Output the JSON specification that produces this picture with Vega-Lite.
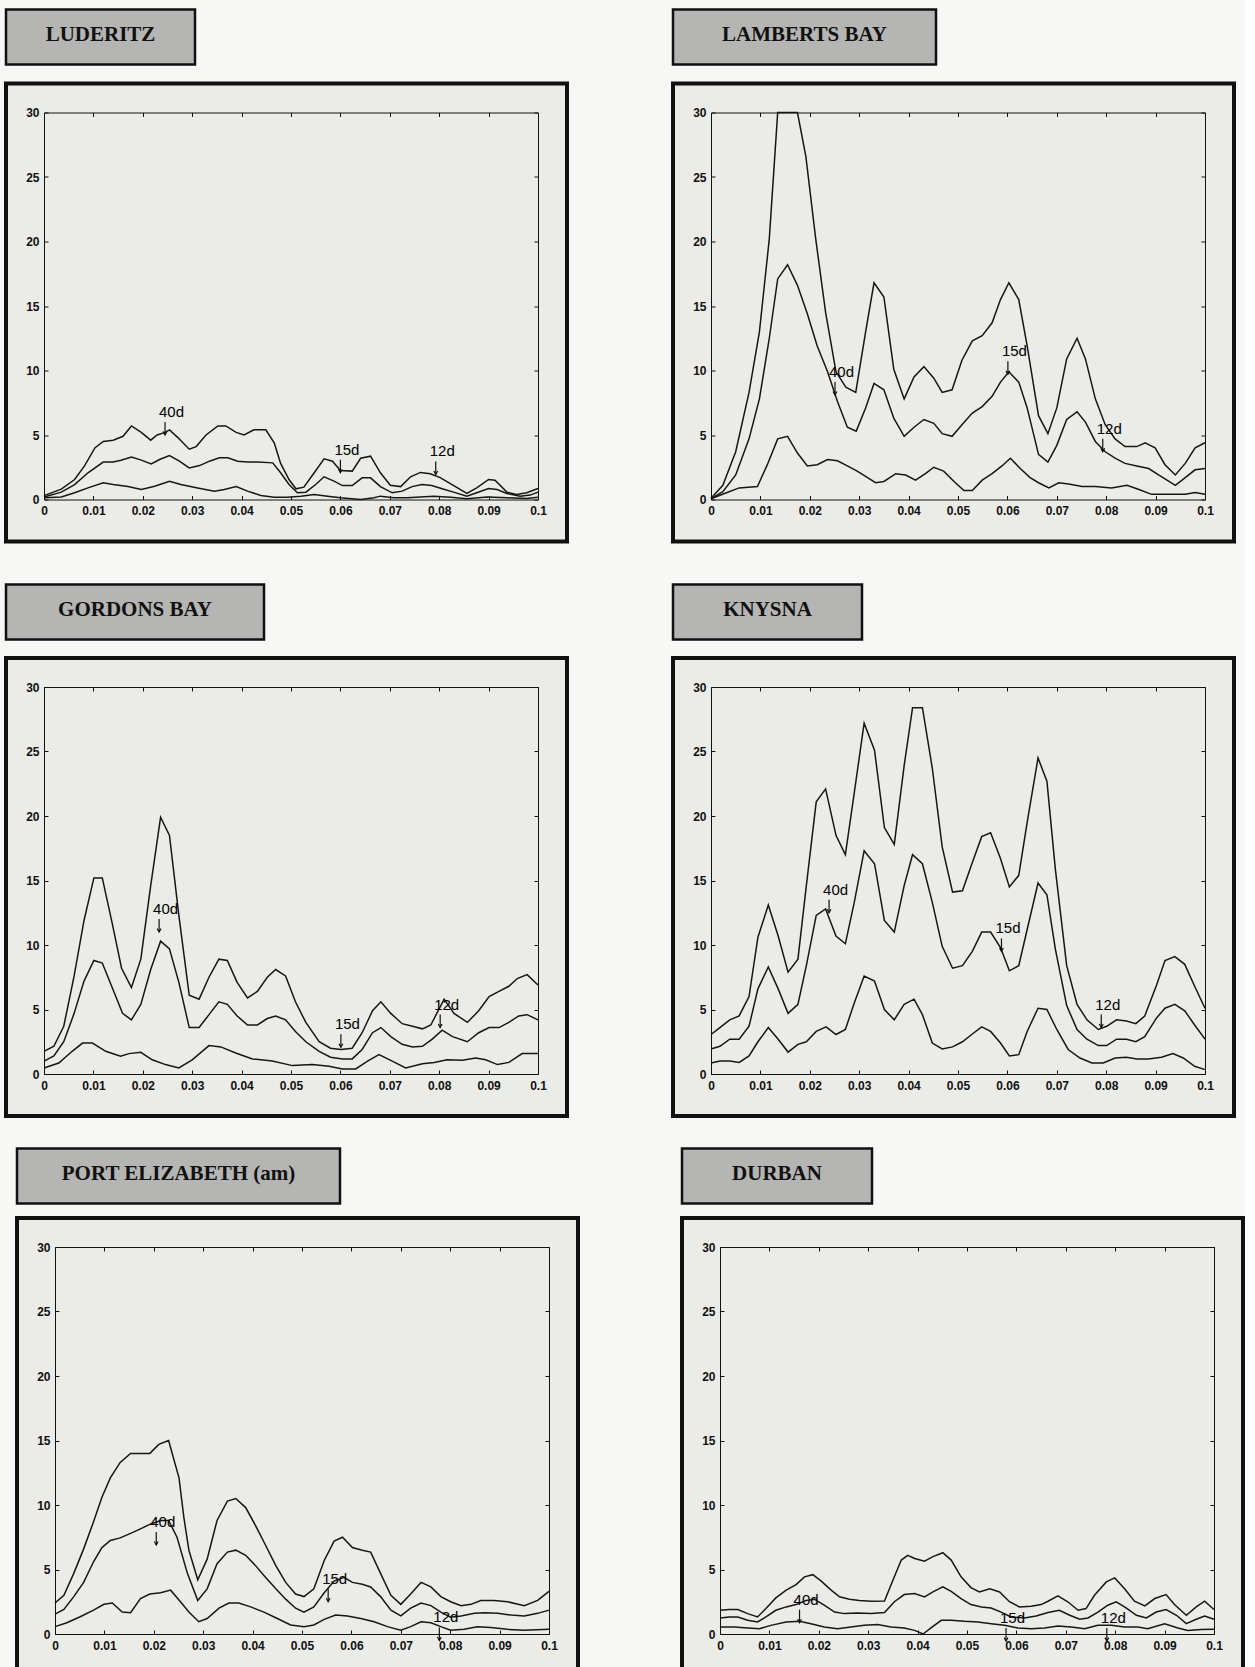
{
"$schema": "https://vega.github.io/schema/vega-lite/v6.json",
"background": "#f7f7f5",
"padding": {"left": 4, "top": 7.5, "right": 0, "bottom": 0},
"config": {
  "view": {"stroke": null},
  "axis": {"tickSize": -4, "domainColor": "#111", "tickColor": "#111", "labelColor": "#111", "labelFont": "Liberation Sans", "labelFontSize": 12, "labelFontWeight": "bold", "grid": false, "labelFlush": false, "labelOverlap": false, "domainWidth": 1, "tickWidth": 1}
},
"datasets": {
"lud": [
{"f":0,"s":"a","v":0.3},{"f":0.0035,"s":"a","v":0.8},{"f":0.0062,"s":"a","v":1.55},{"f":0.0082,"s":"a","v":2.6},{"f":0.0103,"s":"a","v":4.0},{"f":0.012,"s":"a","v":4.5},{"f":0.014,"s":"a","v":4.6},{"f":0.016,"s":"a","v":4.9},{"f":0.0177,"s":"a","v":5.7},{"f":0.0197,"s":"a","v":5.2},{"f":0.0216,"s":"a","v":4.6},{"f":0.0229,"s":"a","v":5.0},{"f":0.0245,"s":"a","v":5.2},{"f":0.0254,"s":"a","v":5.4},{"f":0.0271,"s":"a","v":4.8},{"f":0.0294,"s":"a","v":3.9},{"f":0.0308,"s":"a","v":4.1},{"f":0.0328,"s":"a","v":5.0},{"f":0.0352,"s":"a","v":5.7},{"f":0.0368,"s":"a","v":5.7},{"f":0.0389,"s":"a","v":5.2},{"f":0.0405,"s":"a","v":5.0},{"f":0.0425,"s":"a","v":5.4},{"f":0.0449,"s":"a","v":5.4},{"f":0.0466,"s":"a","v":4.4},{"f":0.0479,"s":"a","v":2.8},{"f":0.0496,"s":"a","v":1.55},{"f":0.051,"s":"a","v":0.83},{"f":0.0526,"s":"a","v":0.96},{"f":0.0547,"s":"a","v":2.07},{"f":0.0567,"s":"a","v":3.15},{"f":0.0584,"s":"a","v":2.97},{"f":0.06,"s":"a","v":2.25},{"f":0.0624,"s":"a","v":2.2},{"f":0.0641,"s":"a","v":3.2},{"f":0.0661,"s":"a","v":3.36},{"f":0.0681,"s":"a","v":2.07},{"f":0.0701,"s":"a","v":1.1},{"f":0.0722,"s":"a","v":1.0},{"f":0.0742,"s":"a","v":1.76},{"f":0.0762,"s":"a","v":2.1},{"f":0.0782,"s":"a","v":2.0},{"f":0.0802,"s":"a","v":1.7},{"f":0.0826,"s":"a","v":1.16},{"f":0.0856,"s":"a","v":0.47},{"f":0.0876,"s":"a","v":0.9},{"f":0.09,"s":"a","v":1.55},{"f":0.0913,"s":"a","v":1.5},{"f":0.0937,"s":"a","v":0.57},{"f":0.0957,"s":"a","v":0.39},{"f":0.0977,"s":"a","v":0.52},{"f":0.1,"s":"a","v":0.85},
{"f":0,"s":"b","v":0.2},{"f":0.0035,"s":"b","v":0.57},{"f":0.0062,"s":"b","v":1.16},{"f":0.0089,"s":"b","v":2.07},{"f":0.012,"s":"b","v":2.9},{"f":0.014,"s":"b","v":2.9},{"f":0.0156,"s":"b","v":3.05},{"f":0.0177,"s":"b","v":3.3},{"f":0.0197,"s":"b","v":3.05},{"f":0.0217,"s":"b","v":2.76},{"f":0.0234,"s":"b","v":3.1},{"f":0.0254,"s":"b","v":3.4},{"f":0.0274,"s":"b","v":2.97},{"f":0.0294,"s":"b","v":2.45},{"f":0.0315,"s":"b","v":2.63},{"f":0.0335,"s":"b","v":2.97},{"f":0.0355,"s":"b","v":3.23},{"f":0.0372,"s":"b","v":3.23},{"f":0.0392,"s":"b","v":2.97},{"f":0.0412,"s":"b","v":2.9},{"f":0.0432,"s":"b","v":2.9},{"f":0.0463,"s":"b","v":2.84},{"f":0.0479,"s":"b","v":2.07},{"f":0.0496,"s":"b","v":1.16},{"f":0.0513,"s":"b","v":0.52},{"f":0.053,"s":"b","v":0.57},{"f":0.055,"s":"b","v":1.16},{"f":0.0567,"s":"b","v":1.76},{"f":0.0587,"s":"b","v":1.42},{"f":0.0604,"s":"b","v":1.08},{"f":0.0624,"s":"b","v":1.08},{"f":0.0644,"s":"b","v":1.68},{"f":0.0661,"s":"b","v":1.68},{"f":0.0681,"s":"b","v":1.0},{"f":0.0705,"s":"b","v":0.52},{"f":0.0725,"s":"b","v":0.65},{"f":0.0745,"s":"b","v":1.0},{"f":0.0765,"s":"b","v":1.16},{"f":0.0785,"s":"b","v":1.08},{"f":0.0806,"s":"b","v":0.83},{"f":0.0829,"s":"b","v":0.57},{"f":0.0856,"s":"b","v":0.26},{"f":0.0876,"s":"b","v":0.52},{"f":0.09,"s":"b","v":0.85},{"f":0.0917,"s":"b","v":0.78},{"f":0.0937,"s":"b","v":0.47},{"f":0.0964,"s":"b","v":0.26},{"f":0.0984,"s":"b","v":0.34},{"f":0.1,"s":"b","v":0.57},
{"f":0,"s":"c","v":0.13},{"f":0.0035,"s":"c","v":0.2},{"f":0.0062,"s":"c","v":0.52},{"f":0.0089,"s":"c","v":0.9},{"f":0.012,"s":"c","v":1.3},{"f":0.014,"s":"c","v":1.16},{"f":0.017,"s":"c","v":1.0},{"f":0.0197,"s":"c","v":0.78},{"f":0.0224,"s":"c","v":1.03},{"f":0.0254,"s":"c","v":1.42},{"f":0.0277,"s":"c","v":1.16},{"f":0.0311,"s":"c","v":0.9},{"f":0.0345,"s":"c","v":0.65},{"f":0.0365,"s":"c","v":0.78},{"f":0.0389,"s":"c","v":1.0},{"f":0.0412,"s":"c","v":0.65},{"f":0.0439,"s":"c","v":0.31},{"f":0.0466,"s":"c","v":0.18},{"f":0.0493,"s":"c","v":0.18},{"f":0.052,"s":"c","v":0.26},{"f":0.0547,"s":"c","v":0.39},{"f":0.0574,"s":"c","v":0.26},{"f":0.06,"s":"c","v":0.13},{"f":0.0641,"s":"c","v":0.0},{"f":0.0668,"s":"c","v":0.13},{"f":0.0681,"s":"c","v":0.26},{"f":0.0708,"s":"c","v":0.13},{"f":0.0735,"s":"c","v":0.13},{"f":0.0789,"s":"c","v":0.26},{"f":0.0823,"s":"c","v":0.18},{"f":0.0856,"s":"c","v":0.05},{"f":0.0897,"s":"c","v":0.2},{"f":0.0937,"s":"c","v":0.13},{"f":0.0977,"s":"c","v":0.08},{"f":0.1,"s":"c","v":0.18}
],
"lam": [
{"f":0,"s":"a","v":0.1},{"f":0.0024,"s":"a","v":1.1},{"f":0.005,"s":"a","v":3.7},{"f":0.0077,"s":"a","v":8.3},{"f":0.0098,"s":"a","v":13},{"f":0.0118,"s":"a","v":20.2},{"f":0.0135,"s":"a","v":30},{"f":0.0155,"s":"a","v":30},{"f":0.0175,"s":"a","v":30},{"f":0.0192,"s":"a","v":26.6},{"f":0.0212,"s":"a","v":20.2},{"f":0.0232,"s":"a","v":14.5},{"f":0.0253,"s":"a","v":9.9},{"f":0.0273,"s":"a","v":8.7},{"f":0.0293,"s":"a","v":8.3},{"f":0.0313,"s":"a","v":13},{"f":0.033,"s":"a","v":16.8},{"f":0.035,"s":"a","v":15.7},{"f":0.037,"s":"a","v":10.1},{"f":0.0391,"s":"a","v":7.8},{"f":0.0411,"s":"a","v":9.5},{"f":0.0431,"s":"a","v":10.3},{"f":0.0451,"s":"a","v":9.4},{"f":0.0468,"s":"a","v":8.3},{"f":0.0488,"s":"a","v":8.5},{"f":0.0508,"s":"a","v":10.8},{"f":0.0529,"s":"a","v":12.3},{"f":0.0549,"s":"a","v":12.7},{"f":0.0569,"s":"a","v":13.7},{"f":0.0586,"s":"a","v":15.5},{"f":0.0603,"s":"a","v":16.8},{"f":0.0623,"s":"a","v":15.5},{"f":0.064,"s":"a","v":11.9},{"f":0.0663,"s":"a","v":6.5},{"f":0.0682,"s":"a","v":5.1},{"f":0.07,"s":"a","v":7.1},{"f":0.072,"s":"a","v":10.9},{"f":0.0741,"s":"a","v":12.5},{"f":0.0758,"s":"a","v":10.9},{"f":0.0778,"s":"a","v":7.8},{"f":0.0798,"s":"a","v":5.8},{"f":0.0818,"s":"a","v":4.7},{"f":0.0838,"s":"a","v":4.1},{"f":0.0862,"s":"a","v":4.1},{"f":0.0879,"s":"a","v":4.4},{"f":0.0899,"s":"a","v":4.0},{"f":0.0919,"s":"a","v":2.7},{"f":0.094,"s":"a","v":1.9},{"f":0.096,"s":"a","v":2.8},{"f":0.098,"s":"a","v":4.0},{"f":0.1,"s":"a","v":4.4},
{"f":0,"s":"b","v":0.06},{"f":0.0024,"s":"b","v":0.6},{"f":0.005,"s":"b","v":1.9},{"f":0.0077,"s":"b","v":4.7},{"f":0.0098,"s":"b","v":7.8},{"f":0.0118,"s":"b","v":12.5},{"f":0.0135,"s":"b","v":17.1},{"f":0.0155,"s":"b","v":18.2},{"f":0.0175,"s":"b","v":16.6},{"f":0.0195,"s":"b","v":14.4},{"f":0.0215,"s":"b","v":11.9},{"f":0.0236,"s":"b","v":9.9},{"f":0.0256,"s":"b","v":7.6},{"f":0.0276,"s":"b","v":5.6},{"f":0.0294,"s":"b","v":5.3},{"f":0.0313,"s":"b","v":7.1},{"f":0.033,"s":"b","v":9.0},{"f":0.035,"s":"b","v":8.5},{"f":0.037,"s":"b","v":6.3},{"f":0.0391,"s":"b","v":4.9},{"f":0.0411,"s":"b","v":5.6},{"f":0.0431,"s":"b","v":6.2},{"f":0.0451,"s":"b","v":5.9},{"f":0.0468,"s":"b","v":5.1},{"f":0.0488,"s":"b","v":4.9},{"f":0.0508,"s":"b","v":5.8},{"f":0.0529,"s":"b","v":6.7},{"f":0.0549,"s":"b","v":7.2},{"f":0.0569,"s":"b","v":8.0},{"f":0.0586,"s":"b","v":9.1},{"f":0.0603,"s":"b","v":9.9},{"f":0.0623,"s":"b","v":9.1},{"f":0.064,"s":"b","v":7.1},{"f":0.0663,"s":"b","v":3.5},{"f":0.0682,"s":"b","v":2.9},{"f":0.07,"s":"b","v":4.2},{"f":0.072,"s":"b","v":6.2},{"f":0.0741,"s":"b","v":6.8},{"f":0.0758,"s":"b","v":6.0},{"f":0.0778,"s":"b","v":4.5},{"f":0.0798,"s":"b","v":3.7},{"f":0.0818,"s":"b","v":3.2},{"f":0.0838,"s":"b","v":2.8},{"f":0.0862,"s":"b","v":2.6},{"f":0.0886,"s":"b","v":2.4},{"f":0.0906,"s":"b","v":1.9},{"f":0.094,"s":"b","v":1.1},{"f":0.096,"s":"b","v":1.7},{"f":0.098,"s":"b","v":2.3},{"f":0.1,"s":"b","v":2.4},
{"f":0,"s":"c","v":0.06},{"f":0.003,"s":"c","v":0.5},{"f":0.0057,"s":"c","v":0.9},{"f":0.0094,"s":"c","v":1.0},{"f":0.0114,"s":"c","v":2.7},{"f":0.0135,"s":"c","v":4.7},{"f":0.0155,"s":"c","v":4.9},{"f":0.0175,"s":"c","v":3.6},{"f":0.0195,"s":"c","v":2.6},{"f":0.0215,"s":"c","v":2.7},{"f":0.0236,"s":"c","v":3.1},{"f":0.0256,"s":"c","v":3.0},{"f":0.0276,"s":"c","v":2.6},{"f":0.0296,"s":"c","v":2.2},{"f":0.0317,"s":"c","v":1.7},{"f":0.0333,"s":"c","v":1.3},{"f":0.035,"s":"c","v":1.4},{"f":0.0374,"s":"c","v":2.0},{"f":0.0394,"s":"c","v":1.9},{"f":0.0414,"s":"c","v":1.5},{"f":0.0434,"s":"c","v":2.0},{"f":0.0451,"s":"c","v":2.5},{"f":0.0471,"s":"c","v":2.2},{"f":0.0492,"s":"c","v":1.4},{"f":0.0512,"s":"c","v":0.7},{"f":0.0529,"s":"c","v":0.7},{"f":0.0549,"s":"c","v":1.5},{"f":0.0569,"s":"c","v":2.0},{"f":0.0589,"s":"c","v":2.6},{"f":0.0606,"s":"c","v":3.2},{"f":0.0626,"s":"c","v":2.4},{"f":0.0646,"s":"c","v":1.7},{"f":0.0663,"s":"c","v":1.3},{"f":0.0684,"s":"c","v":0.9},{"f":0.0704,"s":"c","v":1.3},{"f":0.0724,"s":"c","v":1.2},{"f":0.0751,"s":"c","v":1.0},{"f":0.0778,"s":"c","v":1.0},{"f":0.0811,"s":"c","v":0.9},{"f":0.0842,"s":"c","v":1.1},{"f":0.0865,"s":"c","v":0.8},{"f":0.0892,"s":"c","v":0.4},{"f":0.0933,"s":"c","v":0.4},{"f":0.096,"s":"c","v":0.4},{"f":0.098,"s":"c","v":0.55},{"f":0.1,"s":"c","v":0.4}
],
"gor": [
{"f":0,"s":"a","v":1.76},{"f":0.002,"s":"a","v":2.15},{"f":0.004,"s":"a","v":3.7},{"f":0.0061,"s":"a","v":7.6},{"f":0.0081,"s":"a","v":11.9},{"f":0.0101,"s":"a","v":15.2},{"f":0.0118,"s":"a","v":15.2},{"f":0.0138,"s":"a","v":11.7},{"f":0.0157,"s":"a","v":8.2},{"f":0.0177,"s":"a","v":6.7},{"f":0.0196,"s":"a","v":8.9},{"f":0.0216,"s":"a","v":14.6},{"f":0.0236,"s":"a","v":19.9},{"f":0.0254,"s":"a","v":18.5},{"f":0.0273,"s":"a","v":12.3},{"f":0.0294,"s":"a","v":6.1},{"f":0.0314,"s":"a","v":5.8},{"f":0.0334,"s":"a","v":7.5},{"f":0.0354,"s":"a","v":8.9},{"f":0.0371,"s":"a","v":8.8},{"f":0.0391,"s":"a","v":7.1},{"f":0.0412,"s":"a","v":5.9},{"f":0.0432,"s":"a","v":6.4},{"f":0.0452,"s":"a","v":7.5},{"f":0.0469,"s":"a","v":8.1},{"f":0.0489,"s":"a","v":7.6},{"f":0.0509,"s":"a","v":5.6},{"f":0.053,"s":"a","v":4.0},{"f":0.0557,"s":"a","v":2.5},{"f":0.058,"s":"a","v":2.0},{"f":0.0601,"s":"a","v":1.9},{"f":0.0624,"s":"a","v":2.0},{"f":0.0644,"s":"a","v":3.2},{"f":0.0665,"s":"a","v":4.9},{"f":0.0682,"s":"a","v":5.6},{"f":0.0702,"s":"a","v":4.7},{"f":0.0725,"s":"a","v":3.9},{"f":0.0746,"s":"a","v":3.7},{"f":0.0766,"s":"a","v":3.5},{"f":0.0783,"s":"a","v":3.8},{"f":0.081,"s":"a","v":5.8},{"f":0.083,"s":"a","v":4.7},{"f":0.0857,"s":"a","v":4.0},{"f":0.088,"s":"a","v":4.9},{"f":0.0901,"s":"a","v":6.0},{"f":0.0921,"s":"a","v":6.4},{"f":0.0941,"s":"a","v":6.8},{"f":0.0958,"s":"a","v":7.4},{"f":0.0978,"s":"a","v":7.7},{"f":0.1,"s":"a","v":6.9},
{"f":0,"s":"b","v":1.0},{"f":0.002,"s":"b","v":1.4},{"f":0.004,"s":"b","v":2.5},{"f":0.0061,"s":"b","v":4.7},{"f":0.0081,"s":"b","v":7.2},{"f":0.0101,"s":"b","v":8.8},{"f":0.0118,"s":"b","v":8.6},{"f":0.0138,"s":"b","v":6.7},{"f":0.0159,"s":"b","v":4.7},{"f":0.0177,"s":"b","v":4.2},{"f":0.0196,"s":"b","v":5.4},{"f":0.0216,"s":"b","v":8.1},{"f":0.0236,"s":"b","v":10.3},{"f":0.0254,"s":"b","v":9.7},{"f":0.0273,"s":"b","v":7.1},{"f":0.0294,"s":"b","v":3.6},{"f":0.0314,"s":"b","v":3.6},{"f":0.0334,"s":"b","v":4.6},{"f":0.0354,"s":"b","v":5.6},{"f":0.0371,"s":"b","v":5.4},{"f":0.0391,"s":"b","v":4.5},{"f":0.0412,"s":"b","v":3.8},{"f":0.0432,"s":"b","v":3.8},{"f":0.0452,"s":"b","v":4.3},{"f":0.0469,"s":"b","v":4.5},{"f":0.0489,"s":"b","v":4.2},{"f":0.0509,"s":"b","v":3.3},{"f":0.053,"s":"b","v":2.5},{"f":0.0557,"s":"b","v":1.76},{"f":0.058,"s":"b","v":1.3},{"f":0.0604,"s":"b","v":1.17},{"f":0.0624,"s":"b","v":1.17},{"f":0.0644,"s":"b","v":1.9},{"f":0.0665,"s":"b","v":3.2},{"f":0.0682,"s":"b","v":3.6},{"f":0.0702,"s":"b","v":2.9},{"f":0.0725,"s":"b","v":2.3},{"f":0.0746,"s":"b","v":2.1},{"f":0.0766,"s":"b","v":2.15},{"f":0.0786,"s":"b","v":2.7},{"f":0.0806,"s":"b","v":3.4},{"f":0.0827,"s":"b","v":2.9},{"f":0.0857,"s":"b","v":2.5},{"f":0.088,"s":"b","v":3.2},{"f":0.0901,"s":"b","v":3.6},{"f":0.0921,"s":"b","v":3.6},{"f":0.0941,"s":"b","v":4.0},{"f":0.0961,"s":"b","v":4.5},{"f":0.0978,"s":"b","v":4.6},{"f":0.1,"s":"b","v":4.2},
{"f":0,"s":"c","v":0.47},{"f":0.003,"s":"c","v":0.85},{"f":0.0057,"s":"c","v":1.76},{"f":0.0078,"s":"c","v":2.4},{"f":0.0098,"s":"c","v":2.4},{"f":0.0125,"s":"c","v":1.76},{"f":0.0155,"s":"c","v":1.37},{"f":0.0172,"s":"c","v":1.58},{"f":0.0196,"s":"c","v":1.68},{"f":0.0219,"s":"c","v":1.1},{"f":0.0246,"s":"c","v":0.73},{"f":0.0273,"s":"c","v":0.47},{"f":0.03,"s":"c","v":1.1},{"f":0.0334,"s":"c","v":2.2},{"f":0.0358,"s":"c","v":2.1},{"f":0.0388,"s":"c","v":1.63},{"f":0.0422,"s":"c","v":1.17},{"f":0.0462,"s":"c","v":1.0},{"f":0.0503,"s":"c","v":0.65},{"f":0.0543,"s":"c","v":0.73},{"f":0.0577,"s":"c","v":0.6},{"f":0.0604,"s":"c","v":0.39},{"f":0.0631,"s":"c","v":0.39},{"f":0.0655,"s":"c","v":1.0},{"f":0.0678,"s":"c","v":1.5},{"f":0.0705,"s":"c","v":1.0},{"f":0.0732,"s":"c","v":0.47},{"f":0.0766,"s":"c","v":0.8},{"f":0.079,"s":"c","v":0.9},{"f":0.0816,"s":"c","v":1.1},{"f":0.0847,"s":"c","v":1.06},{"f":0.0874,"s":"c","v":1.24},{"f":0.0894,"s":"c","v":1.1},{"f":0.0918,"s":"c","v":0.73},{"f":0.0941,"s":"c","v":0.9},{"f":0.0968,"s":"c","v":1.58},{"f":0.1,"s":"c","v":1.58}
],
"kny": [
{"f":0,"s":"a","v":3.06},{"f":0.0018,"s":"a","v":3.6},{"f":0.0038,"s":"a","v":4.2},{"f":0.0057,"s":"a","v":4.5},{"f":0.0077,"s":"a","v":6.0},{"f":0.0095,"s":"a","v":10.6},{"f":0.0116,"s":"a","v":13.1},{"f":0.0136,"s":"a","v":10.7},{"f":0.0156,"s":"a","v":7.9},{"f":0.0176,"s":"a","v":8.9},{"f":0.0193,"s":"a","v":14.6},{"f":0.0213,"s":"a","v":21.1},{"f":0.0232,"s":"a","v":22.1},{"f":0.0253,"s":"a","v":18.5},{"f":0.0272,"s":"a","v":17.0},{"f":0.029,"s":"a","v":21.8},{"f":0.031,"s":"a","v":27.2},{"f":0.0331,"s":"a","v":25.1},{"f":0.0351,"s":"a","v":19.1},{"f":0.0371,"s":"a","v":17.8},{"f":0.0391,"s":"a","v":23.9},{"f":0.0408,"s":"a","v":28.4},{"f":0.0428,"s":"a","v":28.4},{"f":0.0448,"s":"a","v":23.7},{"f":0.0468,"s":"a","v":17.6},{"f":0.0489,"s":"a","v":14.1},{"f":0.0509,"s":"a","v":14.2},{"f":0.0529,"s":"a","v":16.4},{"f":0.0548,"s":"a","v":18.4},{"f":0.0566,"s":"a","v":18.7},{"f":0.0586,"s":"a","v":16.7},{"f":0.0604,"s":"a","v":14.5},{"f":0.0623,"s":"a","v":15.4},{"f":0.064,"s":"a","v":19.5},{"f":0.0662,"s":"a","v":24.5},{"f":0.068,"s":"a","v":22.7},{"f":0.0697,"s":"a","v":15.9},{"f":0.072,"s":"a","v":8.4},{"f":0.0741,"s":"a","v":5.4},{"f":0.0761,"s":"a","v":4.2},{"f":0.0784,"s":"a","v":3.45},{"f":0.0801,"s":"a","v":3.7},{"f":0.0821,"s":"a","v":4.2},{"f":0.0841,"s":"a","v":4.1},{"f":0.086,"s":"a","v":3.9},{"f":0.0878,"s":"a","v":4.5},{"f":0.0902,"s":"a","v":6.9},{"f":0.0919,"s":"a","v":8.8},{"f":0.0939,"s":"a","v":9.1},{"f":0.0959,"s":"a","v":8.5},{"f":0.0979,"s":"a","v":6.8},{"f":0.1,"s":"a","v":5.1},
{"f":0,"s":"b","v":1.94},{"f":0.0018,"s":"b","v":2.15},{"f":0.0038,"s":"b","v":2.7},{"f":0.0057,"s":"b","v":2.7},{"f":0.0077,"s":"b","v":3.7},{"f":0.0095,"s":"b","v":6.6},{"f":0.0116,"s":"b","v":8.3},{"f":0.0136,"s":"b","v":6.6},{"f":0.0156,"s":"b","v":4.7},{"f":0.0176,"s":"b","v":5.4},{"f":0.0193,"s":"b","v":8.4},{"f":0.0213,"s":"b","v":12.3},{"f":0.0232,"s":"b","v":12.8},{"f":0.0253,"s":"b","v":10.7},{"f":0.0272,"s":"b","v":10.1},{"f":0.029,"s":"b","v":13.3},{"f":0.031,"s":"b","v":17.3},{"f":0.0331,"s":"b","v":16.3},{"f":0.0351,"s":"b","v":11.9},{"f":0.0371,"s":"b","v":11.0},{"f":0.0391,"s":"b","v":14.6},{"f":0.0408,"s":"b","v":17.0},{"f":0.0428,"s":"b","v":16.3},{"f":0.0448,"s":"b","v":13.3},{"f":0.0468,"s":"b","v":9.9},{"f":0.0489,"s":"b","v":8.2},{"f":0.0509,"s":"b","v":8.4},{"f":0.0529,"s":"b","v":9.5},{"f":0.0548,"s":"b","v":11.0},{"f":0.0566,"s":"b","v":11.0},{"f":0.0586,"s":"b","v":9.8},{"f":0.0604,"s":"b","v":8.0},{"f":0.0623,"s":"b","v":8.4},{"f":0.064,"s":"b","v":11.2},{"f":0.0662,"s":"b","v":14.8},{"f":0.068,"s":"b","v":13.9},{"f":0.0697,"s":"b","v":9.7},{"f":0.072,"s":"b","v":5.3},{"f":0.0741,"s":"b","v":3.45},{"f":0.0761,"s":"b","v":2.7},{"f":0.0784,"s":"b","v":2.2},{"f":0.0801,"s":"b","v":2.2},{"f":0.0821,"s":"b","v":2.7},{"f":0.0841,"s":"b","v":2.7},{"f":0.086,"s":"b","v":2.5},{"f":0.0878,"s":"b","v":2.9},{"f":0.0902,"s":"b","v":4.35},{"f":0.0919,"s":"b","v":5.1},{"f":0.0939,"s":"b","v":5.4},{"f":0.0959,"s":"b","v":4.9},{"f":0.0979,"s":"b","v":3.8},{"f":0.1,"s":"b","v":2.7},
{"f":0,"s":"c","v":0.85},{"f":0.0018,"s":"c","v":1.0},{"f":0.0038,"s":"c","v":1.0},{"f":0.0057,"s":"c","v":0.9},{"f":0.0077,"s":"c","v":1.4},{"f":0.0095,"s":"c","v":2.5},{"f":0.0116,"s":"c","v":3.6},{"f":0.0136,"s":"c","v":2.7},{"f":0.0156,"s":"c","v":1.7},{"f":0.0176,"s":"c","v":2.3},{"f":0.0193,"s":"c","v":2.5},{"f":0.0213,"s":"c","v":3.3},{"f":0.0233,"s":"c","v":3.65},{"f":0.0253,"s":"c","v":3.06},{"f":0.0272,"s":"c","v":3.45},{"f":0.029,"s":"c","v":5.5},{"f":0.031,"s":"c","v":7.6},{"f":0.0331,"s":"c","v":7.2},{"f":0.0351,"s":"c","v":5.0},{"f":0.0371,"s":"c","v":4.2},{"f":0.0391,"s":"c","v":5.4},{"f":0.0411,"s":"c","v":5.8},{"f":0.0428,"s":"c","v":4.6},{"f":0.0448,"s":"c","v":2.4},{"f":0.0468,"s":"c","v":1.94},{"f":0.0489,"s":"c","v":2.1},{"f":0.0509,"s":"c","v":2.5},{"f":0.0529,"s":"c","v":3.1},{"f":0.0548,"s":"c","v":3.65},{"f":0.0566,"s":"c","v":3.3},{"f":0.0586,"s":"c","v":2.4},{"f":0.0604,"s":"c","v":1.4},{"f":0.0623,"s":"c","v":1.5},{"f":0.064,"s":"c","v":3.3},{"f":0.0662,"s":"c","v":5.1},{"f":0.068,"s":"c","v":5.0},{"f":0.07,"s":"c","v":3.45},{"f":0.0723,"s":"c","v":1.9},{"f":0.0747,"s":"c","v":1.24},{"f":0.0771,"s":"c","v":0.85},{"f":0.0794,"s":"c","v":0.85},{"f":0.0818,"s":"c","v":1.24},{"f":0.0841,"s":"c","v":1.3},{"f":0.0862,"s":"c","v":1.17},{"f":0.0885,"s":"c","v":1.17},{"f":0.0912,"s":"c","v":1.3},{"f":0.0935,"s":"c","v":1.58},{"f":0.0956,"s":"c","v":1.24},{"f":0.0979,"s":"c","v":0.6},{"f":0.1,"s":"c","v":0.34}
],
"pe": [
{"f":0,"s":"a","v":2.4},{"f":0.0018,"s":"a","v":3.0},{"f":0.0038,"s":"a","v":4.7},{"f":0.0058,"s":"a","v":6.6},{"f":0.0078,"s":"a","v":8.7},{"f":0.0095,"s":"a","v":10.6},{"f":0.0112,"s":"a","v":12.1},{"f":0.0132,"s":"a","v":13.3},{"f":0.0153,"s":"a","v":14.0},{"f":0.0173,"s":"a","v":14.0},{"f":0.0192,"s":"a","v":14.0},{"f":0.021,"s":"a","v":14.7},{"f":0.023,"s":"a","v":15.0},{"f":0.0251,"s":"a","v":12.1},{"f":0.0261,"s":"a","v":9.0},{"f":0.0271,"s":"a","v":6.5},{"f":0.0289,"s":"a","v":4.2},{"f":0.0308,"s":"a","v":5.8},{"f":0.0328,"s":"a","v":8.8},{"f":0.0349,"s":"a","v":10.3},{"f":0.0366,"s":"a","v":10.5},{"f":0.0386,"s":"a","v":9.8},{"f":0.0406,"s":"a","v":8.4},{"f":0.0426,"s":"a","v":6.9},{"f":0.0447,"s":"a","v":5.3},{"f":0.0467,"s":"a","v":4.0},{"f":0.0487,"s":"a","v":3.1},{"f":0.0504,"s":"a","v":2.9},{"f":0.0524,"s":"a","v":3.5},{"f":0.0545,"s":"a","v":5.7},{"f":0.0565,"s":"a","v":7.2},{"f":0.0582,"s":"a","v":7.5},{"f":0.0602,"s":"a","v":6.7},{"f":0.0622,"s":"a","v":6.5},{"f":0.0639,"s":"a","v":6.35},{"f":0.0659,"s":"a","v":4.7},{"f":0.068,"s":"a","v":3.0},{"f":0.07,"s":"a","v":2.3},{"f":0.072,"s":"a","v":3.1},{"f":0.0741,"s":"a","v":4.0},{"f":0.0761,"s":"a","v":3.65},{"f":0.0781,"s":"a","v":2.9},{"f":0.0801,"s":"a","v":2.5},{"f":0.0822,"s":"a","v":2.2},{"f":0.0842,"s":"a","v":2.3},{"f":0.0862,"s":"a","v":2.6},{"f":0.0889,"s":"a","v":2.6},{"f":0.0916,"s":"a","v":2.5},{"f":0.095,"s":"a","v":2.2},{"f":0.0977,"s":"a","v":2.6},{"f":0.1,"s":"a","v":3.3},
{"f":0,"s":"b","v":1.54},{"f":0.0018,"s":"b","v":1.9},{"f":0.0038,"s":"b","v":2.9},{"f":0.0058,"s":"b","v":4.0},{"f":0.0078,"s":"b","v":5.6},{"f":0.0095,"s":"b","v":6.7},{"f":0.0112,"s":"b","v":7.25},{"f":0.0132,"s":"b","v":7.45},{"f":0.0153,"s":"b","v":7.8},{"f":0.0173,"s":"b","v":8.15},{"f":0.0192,"s":"b","v":8.5},{"f":0.0214,"s":"b","v":8.8},{"f":0.023,"s":"b","v":8.8},{"f":0.0247,"s":"b","v":7.5},{"f":0.0268,"s":"b","v":4.7},{"f":0.0289,"s":"b","v":2.6},{"f":0.0308,"s":"b","v":3.5},{"f":0.0328,"s":"b","v":5.45},{"f":0.0349,"s":"b","v":6.35},{"f":0.0366,"s":"b","v":6.5},{"f":0.0386,"s":"b","v":6.1},{"f":0.0406,"s":"b","v":5.3},{"f":0.0426,"s":"b","v":4.4},{"f":0.0447,"s":"b","v":3.5},{"f":0.0467,"s":"b","v":2.7},{"f":0.0487,"s":"b","v":2.0},{"f":0.0504,"s":"b","v":1.7},{"f":0.0524,"s":"b","v":2.1},{"f":0.0545,"s":"b","v":3.2},{"f":0.0565,"s":"b","v":4.1},{"f":0.0585,"s":"b","v":4.4},{"f":0.0602,"s":"b","v":4.0},{"f":0.0622,"s":"b","v":3.85},{"f":0.0639,"s":"b","v":3.65},{"f":0.0659,"s":"b","v":2.9},{"f":0.068,"s":"b","v":1.85},{"f":0.07,"s":"b","v":1.4},{"f":0.072,"s":"b","v":2.0},{"f":0.0741,"s":"b","v":2.4},{"f":0.0761,"s":"b","v":2.2},{"f":0.0781,"s":"b","v":1.7},{"f":0.0801,"s":"b","v":1.3},{"f":0.0822,"s":"b","v":1.4},{"f":0.0849,"s":"b","v":1.6},{"f":0.0869,"s":"b","v":1.65},{"f":0.0896,"s":"b","v":1.6},{"f":0.0923,"s":"b","v":1.47},{"f":0.095,"s":"b","v":1.4},{"f":0.0977,"s":"b","v":1.6},{"f":0.1,"s":"b","v":1.85},
{"f":0,"s":"c","v":0.57},{"f":0.0024,"s":"c","v":0.87},{"f":0.0051,"s":"c","v":1.34},{"f":0.0078,"s":"c","v":1.85},{"f":0.0099,"s":"c","v":2.3},{"f":0.0116,"s":"c","v":2.4},{"f":0.0136,"s":"c","v":1.7},{"f":0.0153,"s":"c","v":1.65},{"f":0.0173,"s":"c","v":2.75},{"f":0.0192,"s":"c","v":3.1},{"f":0.0214,"s":"c","v":3.2},{"f":0.0234,"s":"c","v":3.4},{"f":0.0254,"s":"c","v":2.5},{"f":0.0271,"s":"c","v":1.7},{"f":0.0291,"s":"c","v":0.95},{"f":0.0308,"s":"c","v":1.2},{"f":0.0332,"s":"c","v":2.0},{"f":0.0352,"s":"c","v":2.4},{"f":0.0372,"s":"c","v":2.4},{"f":0.0396,"s":"c","v":2.1},{"f":0.0423,"s":"c","v":1.7},{"f":0.045,"s":"c","v":1.2},{"f":0.0477,"s":"c","v":0.7},{"f":0.0504,"s":"c","v":0.57},{"f":0.0524,"s":"c","v":0.7},{"f":0.0545,"s":"c","v":1.13},{"f":0.0568,"s":"c","v":1.47},{"f":0.0592,"s":"c","v":1.4},{"f":0.0619,"s":"c","v":1.2},{"f":0.0646,"s":"c","v":0.95},{"f":0.0673,"s":"c","v":0.57},{"f":0.07,"s":"c","v":0.3},{"f":0.072,"s":"c","v":0.57},{"f":0.0741,"s":"c","v":0.95},{"f":0.0761,"s":"c","v":0.87},{"f":0.0781,"s":"c","v":0.57},{"f":0.0801,"s":"c","v":0.3},{"f":0.0828,"s":"c","v":0.36},{"f":0.0855,"s":"c","v":0.57},{"f":0.0882,"s":"c","v":0.5},{"f":0.0916,"s":"c","v":0.36},{"f":0.095,"s":"c","v":0.3},{"f":0.1,"s":"c","v":0.36}
],
"dur": [
{"f":0,"s":"a","v":1.84},{"f":0.0019,"s":"a","v":1.9},{"f":0.0036,"s":"a","v":1.9},{"f":0.0056,"s":"a","v":1.58},{"f":0.0076,"s":"a","v":1.32},{"f":0.0093,"s":"a","v":1.97},{"f":0.0113,"s":"a","v":2.8},{"f":0.0134,"s":"a","v":3.4},{"f":0.0154,"s":"a","v":3.83},{"f":0.0171,"s":"a","v":4.43},{"f":0.0188,"s":"a","v":4.6},{"f":0.0205,"s":"a","v":4.1},{"f":0.0225,"s":"a","v":3.4},{"f":0.0242,"s":"a","v":2.88},{"f":0.0262,"s":"a","v":2.7},{"f":0.0282,"s":"a","v":2.6},{"f":0.0306,"s":"a","v":2.54},{"f":0.0333,"s":"a","v":2.56},{"f":0.035,"s":"a","v":4.17},{"f":0.0367,"s":"a","v":5.73},{"f":0.038,"s":"a","v":6.1},{"f":0.0394,"s":"a","v":5.85},{"f":0.0414,"s":"a","v":5.65},{"f":0.0431,"s":"a","v":6.0},{"f":0.0451,"s":"a","v":6.3},{"f":0.0468,"s":"a","v":5.73},{"f":0.0488,"s":"a","v":4.43},{"f":0.0508,"s":"a","v":3.6},{"f":0.0525,"s":"a","v":3.26},{"f":0.0546,"s":"a","v":3.5},{"f":0.0566,"s":"a","v":3.26},{"f":0.0586,"s":"a","v":2.5},{"f":0.0606,"s":"a","v":2.1},{"f":0.063,"s":"a","v":2.15},{"f":0.065,"s":"a","v":2.28},{"f":0.0664,"s":"a","v":2.54},{"f":0.0684,"s":"a","v":2.95},{"f":0.0704,"s":"a","v":2.5},{"f":0.0725,"s":"a","v":1.84},{"f":0.0741,"s":"a","v":1.97},{"f":0.0758,"s":"a","v":3.0},{"f":0.0782,"s":"a","v":4.04},{"f":0.0799,"s":"a","v":4.35},{"f":0.0819,"s":"a","v":3.5},{"f":0.0839,"s":"a","v":2.54},{"f":0.086,"s":"a","v":2.18},{"f":0.088,"s":"a","v":2.75},{"f":0.0903,"s":"a","v":3.06},{"f":0.092,"s":"a","v":2.28},{"f":0.0944,"s":"a","v":1.45},{"f":0.0964,"s":"a","v":2.1},{"f":0.0981,"s":"a","v":2.54},{"f":0.1,"s":"a","v":1.9},
{"f":0,"s":"b","v":1.24},{"f":0.0019,"s":"b","v":1.32},{"f":0.0036,"s":"b","v":1.32},{"f":0.0056,"s":"b","v":1.06},{"f":0.0076,"s":"b","v":0.93},{"f":0.0093,"s":"b","v":1.32},{"f":0.0113,"s":"b","v":1.84},{"f":0.0134,"s":"b","v":2.1},{"f":0.0154,"s":"b","v":2.28},{"f":0.0174,"s":"b","v":2.6},{"f":0.0191,"s":"b","v":2.7},{"f":0.0211,"s":"b","v":2.23},{"f":0.0232,"s":"b","v":1.7},{"f":0.0252,"s":"b","v":1.58},{"f":0.0279,"s":"b","v":1.63},{"f":0.0306,"s":"b","v":1.58},{"f":0.0333,"s":"b","v":1.66},{"f":0.0353,"s":"b","v":2.5},{"f":0.0373,"s":"b","v":3.06},{"f":0.0394,"s":"b","v":3.13},{"f":0.0414,"s":"b","v":2.88},{"f":0.0431,"s":"b","v":3.26},{"f":0.0451,"s":"b","v":3.65},{"f":0.0468,"s":"b","v":3.3},{"f":0.0488,"s":"b","v":2.75},{"f":0.0508,"s":"b","v":2.28},{"f":0.0529,"s":"b","v":2.1},{"f":0.0549,"s":"b","v":2.02},{"f":0.0569,"s":"b","v":1.7},{"f":0.0589,"s":"b","v":1.32},{"f":0.0616,"s":"b","v":1.24},{"f":0.064,"s":"b","v":1.4},{"f":0.0664,"s":"b","v":1.66},{"f":0.0687,"s":"b","v":1.84},{"f":0.0708,"s":"b","v":1.45},{"f":0.0728,"s":"b","v":1.14},{"f":0.0745,"s":"b","v":1.24},{"f":0.0765,"s":"b","v":1.7},{"f":0.0785,"s":"b","v":2.23},{"f":0.0802,"s":"b","v":2.5},{"f":0.0822,"s":"b","v":2.02},{"f":0.0843,"s":"b","v":1.45},{"f":0.0863,"s":"b","v":1.24},{"f":0.0883,"s":"b","v":1.7},{"f":0.0903,"s":"b","v":1.9},{"f":0.0924,"s":"b","v":1.45},{"f":0.0944,"s":"b","v":0.8},{"f":0.0964,"s":"b","v":1.14},{"f":0.0981,"s":"b","v":1.4},{"f":0.1,"s":"b","v":1.14},
{"f":0,"s":"c","v":0.54},{"f":0.0029,"s":"c","v":0.54},{"f":0.0056,"s":"c","v":0.47},{"f":0.008,"s":"c","v":0.41},{"f":0.0103,"s":"c","v":0.67},{"f":0.0134,"s":"c","v":0.93},{"f":0.0161,"s":"c","v":0.98},{"f":0.0184,"s":"c","v":0.8},{"f":0.0211,"s":"c","v":0.54},{"f":0.0238,"s":"c","v":0.41},{"f":0.0265,"s":"c","v":0.54},{"f":0.0292,"s":"c","v":0.67},{"f":0.0319,"s":"c","v":0.73},{"f":0.0346,"s":"c","v":0.54},{"f":0.0373,"s":"c","v":0.47},{"f":0.0394,"s":"c","v":0.28},{"f":0.0411,"s":"c","v":0.0},{"f":0.0427,"s":"c","v":0.47},{"f":0.0448,"s":"c","v":1.06},{"f":0.0468,"s":"c","v":1.06},{"f":0.0495,"s":"c","v":0.98},{"f":0.0522,"s":"c","v":0.93},{"f":0.0549,"s":"c","v":0.8},{"f":0.0576,"s":"c","v":0.67},{"f":0.0603,"s":"c","v":0.47},{"f":0.063,"s":"c","v":0.41},{"f":0.0657,"s":"c","v":0.47},{"f":0.0684,"s":"c","v":0.62},{"f":0.0711,"s":"c","v":0.54},{"f":0.0738,"s":"c","v":0.41},{"f":0.0765,"s":"c","v":0.67},{"f":0.0792,"s":"c","v":0.67},{"f":0.0819,"s":"c","v":0.54},{"f":0.0846,"s":"c","v":0.54},{"f":0.0866,"s":"c","v":0.41},{"f":0.09,"s":"c","v":0.8},{"f":0.0927,"s":"c","v":0.47},{"f":0.0947,"s":"c","v":0.28},{"f":0.0974,"s":"c","v":0.34},{"f":0.1,"s":"c","v":0.36}
],
"lud_n": [{"f":0.0245,"tip":5.0,"label":"40d"},{"f":0.06,"tip":2.07,"label":"15d"},{"f":0.0793,"tip":1.94,"label":"12d"}],
"lam_n": [{"f":0.0251,"tip":8.1,"label":"40d"},{"f":0.0601,"tip":9.7,"label":"15d"},{"f":0.0793,"tip":3.7,"label":"12d"}],
"gor_n": [{"f":0.0233,"tip":11.0,"label":"40d"},{"f":0.0601,"tip":2.07,"label":"15d"},{"f":0.0802,"tip":3.6,"label":"12d"}],
"kny_n": [{"f":0.0239,"tip":12.5,"label":"40d"},{"f":0.0588,"tip":9.5,"label":"15d"},{"f":0.079,"tip":3.6,"label":"12d"}],
"pe_n": [{"f":0.0205,"tip":6.9,"label":"40d"},{"f":0.0553,"tip":2.5,"label":"15d"},{"f":0.0778,"tip":-0.5,"label":"12d"}],
"dur_n": [{"f":0.0161,"tip":0.88,"label":"40d"},{"f":0.0579,"tip":-0.55,"label":"15d"},{"f":0.0783,"tip":-0.55,"label":"12d"}]
},
"vconcat": [
{"hconcat": [
  {"vconcat": [
    {"width": 189, "height": 55, "data": {"values": [{"name": "LUDERITZ"}]}, "view": {"fill": "#b5b5b3", "stroke": "#111", "strokeWidth": 2.5}, "mark": {"type": "text", "font": "Liberation Serif", "fontWeight": "bold", "fontSize": 21, "dy": -2, "color": "#111"}, "encoding": {"text": {"field": "name"}}},
    {"width": 561, "height": 458, "view": {"fill": "#ebebe8", "stroke": "#111", "strokeWidth": 4},
     "layer": [
      {"data": {"name": "lud"}, "mark": {"type": "line", "color": "#161616", "strokeWidth": 1.5},
       "encoding": {"x": {"field": "f", "type": "quantitative", "scale": {"domain": [0, 0.1], "range": [38, 532], "nice": false, "zero": false}, "axis": {"orient": "bottom", "offset": -42, "values": [0,0.01,0.02,0.03,0.04,0.05,0.06,0.07,0.08,0.09,0.1], "format": "~g", "title": null, "labelPadding": 10}},
        "y": {"field": "v", "type": "quantitative", "scale": {"domain": [0, 30], "range": [416, 29], "nice": false, "zero": false}, "axis": {"orient": "left", "offset": -38, "values": [0,5,10,15,20,25,30], "title": null, "labelPadding": 9}},
        "detail": {"field": "s"}}},
      {"data": {"name": "lud_n"}, "mark": {"type": "rule", "color": "#111", "strokeWidth": 1.2, "y2Offset": -13},
       "encoding": {"x": {"field": "f", "type": "quantitative", "axis": {"orient": "top", "offset": -29, "values": [0,0.01,0.02,0.03,0.04,0.05,0.06,0.07,0.08,0.09,0.1], "labels": false, "title": null}},
        "y": {"field": "tip", "type": "quantitative", "axis": {"orient": "right", "offset": -29, "values": [0,5,10,15,20,25,30], "labels": false, "title": null}},
        "y2": {"field": "tip"}}},
      {"data": {"name": "lud_n"}, "mark": {"type": "point", "shape": "M -0.6 -1.1 L 0 0 L 0.6 -1.1", "filled": false, "color": "#111", "strokeWidth": 1.2, "size": 40, "opacity": 1},
       "encoding": {"x": {"field": "f", "type": "quantitative", "axis": null}, "y": {"field": "tip", "type": "quantitative", "axis": null}}},
      {"data": {"name": "lud_n"}, "mark": {"type": "text", "align": "left", "baseline": "alphabetic", "dx": -6, "dy": -18, "fontSize": 15, "font": "Liberation Sans", "color": "#000"},
       "encoding": {"x": {"field": "f", "type": "quantitative", "axis": null}, "y": {"field": "tip", "type": "quantitative", "axis": null}, "text": {"field": "label"}}}
     ],
     "resolve": {"axis": {"x": "independent", "y": "independent"}}}
  ], "spacing": 15},
  {"vconcat": [
    {"width": 263, "height": 55, "data": {"values": [{"name": "LAMBERTS BAY"}]}, "view": {"fill": "#b5b5b3", "stroke": "#111", "strokeWidth": 2.5}, "mark": {"type": "text", "font": "Liberation Serif", "fontWeight": "bold", "fontSize": 21, "dy": -2, "color": "#111"}, "encoding": {"text": {"field": "name"}}},
    {"width": 561, "height": 458, "view": {"fill": "#ebebe8", "stroke": "#111", "strokeWidth": 4},
     "layer": [
      {"data": {"name": "lam"}, "mark": {"type": "line", "color": "#161616", "strokeWidth": 1.5},
       "encoding": {"x": {"field": "f", "type": "quantitative", "scale": {"domain": [0, 0.1], "range": [38, 532], "nice": false, "zero": false}, "axis": {"orient": "bottom", "offset": -42, "values": [0,0.01,0.02,0.03,0.04,0.05,0.06,0.07,0.08,0.09,0.1], "format": "~g", "title": null, "labelPadding": 10}},
        "y": {"field": "v", "type": "quantitative", "scale": {"domain": [0, 30], "range": [416, 29], "nice": false, "zero": false}, "axis": {"orient": "left", "offset": -38, "values": [0,5,10,15,20,25,30], "title": null, "labelPadding": 9}},
        "detail": {"field": "s"}}},
      {"data": {"name": "lam_n"}, "mark": {"type": "rule", "color": "#111", "strokeWidth": 1.2, "y2Offset": -13},
       "encoding": {"x": {"field": "f", "type": "quantitative", "axis": {"orient": "top", "offset": -29, "values": [0,0.01,0.02,0.03,0.04,0.05,0.06,0.07,0.08,0.09,0.1], "labels": false, "title": null}},
        "y": {"field": "tip", "type": "quantitative", "axis": {"orient": "right", "offset": -29, "values": [0,5,10,15,20,25,30], "labels": false, "title": null}},
        "y2": {"field": "tip"}}},
      {"data": {"name": "lam_n"}, "mark": {"type": "point", "shape": "M -0.6 -1.1 L 0 0 L 0.6 -1.1", "filled": false, "color": "#111", "strokeWidth": 1.2, "size": 40, "opacity": 1},
       "encoding": {"x": {"field": "f", "type": "quantitative", "axis": null}, "y": {"field": "tip", "type": "quantitative", "axis": null}}},
      {"data": {"name": "lam_n"}, "mark": {"type": "text", "align": "left", "baseline": "alphabetic", "dx": -6, "dy": -18, "fontSize": 15, "font": "Liberation Sans", "color": "#000"},
       "encoding": {"x": {"field": "f", "type": "quantitative", "axis": null}, "y": {"field": "tip", "type": "quantitative", "axis": null}, "text": {"field": "label"}}}
     ],
     "resolve": {"axis": {"x": "independent", "y": "independent"}}}
  ], "spacing": 15}
], "spacing": 102},
{"vconcat": [
 {"hconcat": [
  {"vconcat": [
    {"width": 258, "height": 55, "data": {"values": [{"name": "GORDONS BAY"}]}, "view": {"fill": "#b5b5b3", "stroke": "#111", "strokeWidth": 2.5}, "mark": {"type": "text", "font": "Liberation Serif", "fontWeight": "bold", "fontSize": 21, "dy": -2, "color": "#111"}, "encoding": {"text": {"field": "name"}}},
    {"width": 561, "height": 458, "view": {"fill": "#ebebe8", "stroke": "#111", "strokeWidth": 4},
     "layer": [
      {"data": {"name": "gor"}, "mark": {"type": "line", "color": "#161616", "strokeWidth": 1.5},
       "encoding": {"x": {"field": "f", "type": "quantitative", "scale": {"domain": [0, 0.1], "range": [38, 532], "nice": false, "zero": false}, "axis": {"orient": "bottom", "offset": -42, "values": [0,0.01,0.02,0.03,0.04,0.05,0.06,0.07,0.08,0.09,0.1], "format": "~g", "title": null, "labelPadding": 10}},
        "y": {"field": "v", "type": "quantitative", "scale": {"domain": [0, 30], "range": [416, 29], "nice": false, "zero": false}, "axis": {"orient": "left", "offset": -38, "values": [0,5,10,15,20,25,30], "title": null, "labelPadding": 9}},
        "detail": {"field": "s"}}},
      {"data": {"name": "gor_n"}, "mark": {"type": "rule", "color": "#111", "strokeWidth": 1.2, "y2Offset": -13},
       "encoding": {"x": {"field": "f", "type": "quantitative", "axis": {"orient": "top", "offset": -29, "values": [0,0.01,0.02,0.03,0.04,0.05,0.06,0.07,0.08,0.09,0.1], "labels": false, "title": null}},
        "y": {"field": "tip", "type": "quantitative", "axis": {"orient": "right", "offset": -29, "values": [0,5,10,15,20,25,30], "labels": false, "title": null}},
        "y2": {"field": "tip"}}},
      {"data": {"name": "gor_n"}, "mark": {"type": "point", "shape": "M -0.6 -1.1 L 0 0 L 0.6 -1.1", "filled": false, "color": "#111", "strokeWidth": 1.2, "size": 40, "opacity": 1},
       "encoding": {"x": {"field": "f", "type": "quantitative", "axis": null}, "y": {"field": "tip", "type": "quantitative", "axis": null}}},
      {"data": {"name": "gor_n"}, "mark": {"type": "text", "align": "left", "baseline": "alphabetic", "dx": -6, "dy": -18, "fontSize": 15, "font": "Liberation Sans", "color": "#000"},
       "encoding": {"x": {"field": "f", "type": "quantitative", "axis": null}, "y": {"field": "tip", "type": "quantitative", "axis": null}, "text": {"field": "label"}}}
     ],
     "resolve": {"axis": {"x": "independent", "y": "independent"}}}
  ], "spacing": 14.5},
  {"vconcat": [
    {"width": 189, "height": 55, "data": {"values": [{"name": "KNYSNA"}]}, "view": {"fill": "#b5b5b3", "stroke": "#111", "strokeWidth": 2.5}, "mark": {"type": "text", "font": "Liberation Serif", "fontWeight": "bold", "fontSize": 21, "dy": -2, "color": "#111"}, "encoding": {"text": {"field": "name"}}},
    {"width": 561, "height": 458, "view": {"fill": "#ebebe8", "stroke": "#111", "strokeWidth": 4},
     "layer": [
      {"data": {"name": "kny"}, "mark": {"type": "line", "color": "#161616", "strokeWidth": 1.5},
       "encoding": {"x": {"field": "f", "type": "quantitative", "scale": {"domain": [0, 0.1], "range": [38, 532], "nice": false, "zero": false}, "axis": {"orient": "bottom", "offset": -42, "values": [0,0.01,0.02,0.03,0.04,0.05,0.06,0.07,0.08,0.09,0.1], "format": "~g", "title": null, "labelPadding": 10}},
        "y": {"field": "v", "type": "quantitative", "scale": {"domain": [0, 30], "range": [416, 29], "nice": false, "zero": false}, "axis": {"orient": "left", "offset": -38, "values": [0,5,10,15,20,25,30], "title": null, "labelPadding": 9}},
        "detail": {"field": "s"}}},
      {"data": {"name": "kny_n"}, "mark": {"type": "rule", "color": "#111", "strokeWidth": 1.2, "y2Offset": -13},
       "encoding": {"x": {"field": "f", "type": "quantitative", "axis": {"orient": "top", "offset": -29, "values": [0,0.01,0.02,0.03,0.04,0.05,0.06,0.07,0.08,0.09,0.1], "labels": false, "title": null}},
        "y": {"field": "tip", "type": "quantitative", "axis": {"orient": "right", "offset": -29, "values": [0,5,10,15,20,25,30], "labels": false, "title": null}},
        "y2": {"field": "tip"}}},
      {"data": {"name": "kny_n"}, "mark": {"type": "point", "shape": "M -0.6 -1.1 L 0 0 L 0.6 -1.1", "filled": false, "color": "#111", "strokeWidth": 1.2, "size": 40, "opacity": 1},
       "encoding": {"x": {"field": "f", "type": "quantitative", "axis": null}, "y": {"field": "tip", "type": "quantitative", "axis": null}}},
      {"data": {"name": "kny_n"}, "mark": {"type": "text", "align": "left", "baseline": "alphabetic", "dx": -6, "dy": -18, "fontSize": 15, "font": "Liberation Sans", "color": "#000"},
       "encoding": {"x": {"field": "f", "type": "quantitative", "axis": null}, "y": {"field": "tip", "type": "quantitative", "axis": null}, "text": {"field": "label"}}}
     ],
     "resolve": {"axis": {"x": "independent", "y": "independent"}}}
  ], "spacing": 14.5}
 ], "spacing": 102},
 {"hconcat": [
  {"width": 9, "height": 10, "data": {"values": []}, "mark": "point", "encoding": {}},
  {"hconcat": [
  {"vconcat": [
    {"width": 323, "height": 55, "data": {"values": [{"name": "PORT ELIZABETH (am)"}]}, "view": {"fill": "#b5b5b3", "stroke": "#111", "strokeWidth": 2.5}, "mark": {"type": "text", "font": "Liberation Serif", "fontWeight": "bold", "fontSize": 21, "dy": -2, "color": "#111"}, "encoding": {"text": {"field": "name"}}},
    {"width": 561, "height": 458, "view": {"fill": "#ebebe8", "stroke": "#111", "strokeWidth": 4},
     "layer": [
      {"data": {"name": "pe"}, "mark": {"type": "line", "color": "#161616", "strokeWidth": 1.5},
       "encoding": {"x": {"field": "f", "type": "quantitative", "scale": {"domain": [0, 0.1], "range": [38, 532], "nice": false, "zero": false}, "axis": {"orient": "bottom", "offset": -42, "values": [0,0.01,0.02,0.03,0.04,0.05,0.06,0.07,0.08,0.09,0.1], "format": "~g", "title": null, "labelPadding": 10}},
        "y": {"field": "v", "type": "quantitative", "scale": {"domain": [0, 30], "range": [416, 29], "nice": false, "zero": false}, "axis": {"orient": "left", "offset": -38, "values": [0,5,10,15,20,25,30], "title": null, "labelPadding": 9}},
        "detail": {"field": "s"}}},
      {"data": {"name": "pe_n"}, "mark": {"type": "rule", "color": "#111", "strokeWidth": 1.2, "y2Offset": -13},
       "encoding": {"x": {"field": "f", "type": "quantitative", "axis": {"orient": "top", "offset": -29, "values": [0,0.01,0.02,0.03,0.04,0.05,0.06,0.07,0.08,0.09,0.1], "labels": false, "title": null}},
        "y": {"field": "tip", "type": "quantitative", "axis": {"orient": "right", "offset": -29, "values": [0,5,10,15,20,25,30], "labels": false, "title": null}},
        "y2": {"field": "tip"}}},
      {"data": {"name": "pe_n"}, "mark": {"type": "point", "shape": "M -0.6 -1.1 L 0 0 L 0.6 -1.1", "filled": false, "color": "#111", "strokeWidth": 1.2, "size": 40, "opacity": 1},
       "encoding": {"x": {"field": "f", "type": "quantitative", "axis": null}, "y": {"field": "tip", "type": "quantitative", "axis": null}}},
      {"data": {"name": "pe_n"}, "mark": {"type": "text", "align": "left", "baseline": "alphabetic", "dx": -6, "dy": -18, "fontSize": 15, "font": "Liberation Sans", "color": "#000"},
       "encoding": {"x": {"field": "f", "type": "quantitative", "axis": null}, "y": {"field": "tip", "type": "quantitative", "axis": null}, "text": {"field": "label"}}}
     ],
     "resolve": {"axis": {"x": "independent", "y": "independent"}}}
  ], "spacing": 10.5},
  {"vconcat": [
    {"width": 190, "height": 55, "data": {"values": [{"name": "DURBAN"}]}, "view": {"fill": "#b5b5b3", "stroke": "#111", "strokeWidth": 2.5}, "mark": {"type": "text", "font": "Liberation Serif", "fontWeight": "bold", "fontSize": 21, "dy": -2, "color": "#111"}, "encoding": {"text": {"field": "name"}}},
    {"width": 561, "height": 458, "view": {"fill": "#ebebe8", "stroke": "#111", "strokeWidth": 4},
     "layer": [
      {"data": {"name": "dur"}, "mark": {"type": "line", "color": "#161616", "strokeWidth": 1.5},
       "encoding": {"x": {"field": "f", "type": "quantitative", "scale": {"domain": [0, 0.1], "range": [38, 532], "nice": false, "zero": false}, "axis": {"orient": "bottom", "offset": -42, "values": [0,0.01,0.02,0.03,0.04,0.05,0.06,0.07,0.08,0.09,0.1], "format": "~g", "title": null, "labelPadding": 10}},
        "y": {"field": "v", "type": "quantitative", "scale": {"domain": [0, 30], "range": [416, 29], "nice": false, "zero": false}, "axis": {"orient": "left", "offset": -38, "values": [0,5,10,15,20,25,30], "title": null, "labelPadding": 9}},
        "detail": {"field": "s"}}},
      {"data": {"name": "dur_n"}, "mark": {"type": "rule", "color": "#111", "strokeWidth": 1.2, "y2Offset": -13},
       "encoding": {"x": {"field": "f", "type": "quantitative", "axis": {"orient": "top", "offset": -29, "values": [0,0.01,0.02,0.03,0.04,0.05,0.06,0.07,0.08,0.09,0.1], "labels": false, "title": null}},
        "y": {"field": "tip", "type": "quantitative", "axis": {"orient": "right", "offset": -29, "values": [0,5,10,15,20,25,30], "labels": false, "title": null}},
        "y2": {"field": "tip"}}},
      {"data": {"name": "dur_n"}, "mark": {"type": "point", "shape": "M -0.6 -1.1 L 0 0 L 0.6 -1.1", "filled": false, "color": "#111", "strokeWidth": 1.2, "size": 40, "opacity": 1},
       "encoding": {"x": {"field": "f", "type": "quantitative", "axis": null}, "y": {"field": "tip", "type": "quantitative", "axis": null}}},
      {"data": {"name": "dur_n"}, "mark": {"type": "text", "align": "left", "baseline": "alphabetic", "dx": -6, "dy": -18, "fontSize": 15, "font": "Liberation Sans", "color": "#000"},
       "encoding": {"x": {"field": "f", "type": "quantitative", "axis": null}, "y": {"field": "tip", "type": "quantitative", "axis": null}, "text": {"field": "label"}}}
     ],
     "resolve": {"axis": {"x": "independent", "y": "independent"}}}
  ], "spacing": 10.5}
  ], "spacing": 100}
 ], "spacing": 0}
], "spacing": 28}
], "spacing": 39}
